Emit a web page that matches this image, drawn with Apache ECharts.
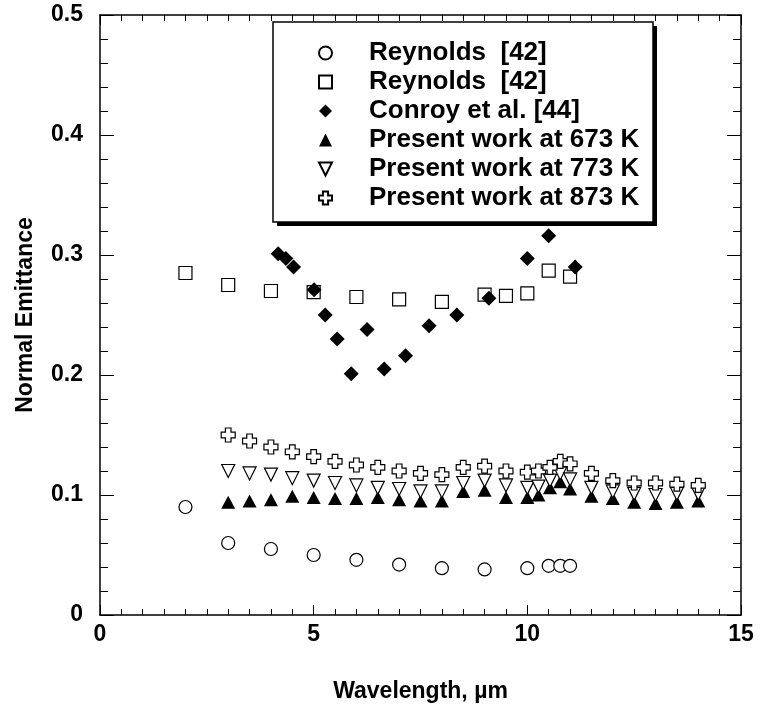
<!DOCTYPE html>
<html><head><meta charset="utf-8">
<script src="https://cdn.jsdelivr.net/npm/echarts@6/dist/echarts.min.js"></script>
<style>html,body{margin:0;padding:0;background:#fff}#c{width:762px;height:710px}</style>
</head><body><div id="c"></div>
<script>
var reynoldsCircleX = [2, 3, 4, 5, 6, 7, 8, 9, 10, 10.5, 10.77, 11];
var reynoldsCircleY = [0.090, 0.060, 0.055, 0.050, 0.046, 0.042, 0.039, 0.038, 0.039, 0.041, 0.041, 0.041];
var reynoldsSquareX = [2, 3, 4, 5, 6, 7, 8, 9, 9.5, 10, 10.5, 11];
var reynoldsSquareY = [0.285, 0.275, 0.270, 0.269, 0.265, 0.263, 0.261, 0.267, 0.266, 0.268, 0.287, 0.282];
var conroyX = [4.17, 4.35, 4.53, 5.01, 5.27, 5.55, 5.88, 6.25, 6.65, 7.15, 7.7, 8.35, 9.1, 10.0, 10.5, 11.12];
var conroyY = [0.301, 0.297, 0.290, 0.271, 0.250, 0.230, 0.201, 0.238, 0.205, 0.216, 0.241, 0.250, 0.264, 0.297, 0.316, 0.290];
var presentX = [3, 3.5, 4, 4.5, 5, 5.5, 6, 6.5, 7, 7.5, 8, 8.5, 9, 9.5, 10, 10.26, 10.53, 10.77, 11, 11.5, 12, 12.5, 13, 13.5, 14];
var w673Y = [0.094, 0.095, 0.096, 0.099, 0.098, 0.097, 0.097, 0.098, 0.096, 0.095, 0.095, 0.103, 0.104, 0.098, 0.098, 0.100, 0.106, 0.111, 0.105, 0.099, 0.097, 0.094, 0.093, 0.094, 0.095];
var w773Y = [0.120, 0.118, 0.117, 0.114, 0.112, 0.110, 0.108, 0.106, 0.105, 0.103, 0.103, 0.110, 0.112, 0.108, 0.106, 0.107, 0.112, 0.118, 0.113, 0.106, 0.103, 0.101, 0.100, 0.101, 0.101];
var w873Y = [0.150, 0.145, 0.140, 0.136, 0.132, 0.128, 0.125, 0.123, 0.120, 0.118, 0.117, 0.123, 0.124, 0.120, 0.119, 0.120, 0.123, 0.128, 0.126, 0.118, 0.112, 0.110, 0.110, 0.109, 0.108];
var xTicks = [0, 5, 10, 15];
var yTicks = [0, 0.1, 0.2, 0.3, 0.4, 0.5];
var legendNames = ['Reynolds  [42]', 'Reynolds  [42] ', 'Conroy et al. [44]', 'Present work at 673 K', 'Present work at 773 K', 'Present work at 873 K'];

function pairs(xs, ys) { return xs.map(function (x, i) { return [x, ys[i]]; }); }

var FONT = 'Liberation Sans, Arial, sans-serif';
var downTri = 'path://M0,0 L10,0 L5,10 Z';
var crossPath = 'path://M3,0 L7,0 L7,3 L10,3 L10,7 L7,7 L7,10 L3,10 L3,7 L0,7 L0,3 L3,3 Z';
var hollow = { color: '#fff', borderColor: '#000', borderWidth: 1.2, opacity: 1 };
var solid = { color: '#000', borderColor: '#000', borderWidth: 0, opacity: 1 };

var axisCommon = {
  axisLine: { show: true, onZero: false, lineStyle: { color: '#000', width: 1.5 } },
  splitLine: { show: false },
  axisTick: { show: true, inside: true, lineStyle: { color: '#000', width: 1 } },
  minorTick: { show: true, lineStyle: { color: '#000', width: 1 } },
  axisLabel: { color: '#000', fontFamily: FONT, fontWeight: 'bold', fontSize: 23 }
};
function merge(a, b) { return echarts.util.merge(echarts.util.clone(a), b, true); }

var chart = echarts.init(document.getElementById('c'), null, { renderer: 'canvas' });
chart.setOption({
  animation: false,
  backgroundColor: '#fff',
  grid: { left: 100, right: 21, top: 15, bottom: 95 },
  xAxis: [
    merge(axisCommon, {
      type: 'value', min: xTicks[0], max: xTicks[xTicks.length - 1], interval: 5,
      axisTick: { length: 10 }, minorTick: { splitNumber: 10, length: 6 },
      axisLabel: { margin: 8 },
      name: 'Wavelength, \u00b5m', nameLocation: 'middle', nameGap: 65,
      nameTextStyle: { color: '#000', fontFamily: FONT, fontWeight: 'bold', fontSize: 23 }
    }),
    merge(axisCommon, {
      type: 'value', position: 'top', min: xTicks[0], max: xTicks[xTicks.length - 1], interval: 5,
      axisTick: { length: 10 }, minorTick: { splitNumber: 10, length: 6 },
      axisLabel: { show: false }
    })
  ],
  yAxis: [
    merge(axisCommon, {
      type: 'value', min: yTicks[0], max: yTicks[yTicks.length - 1], interval: 0.1,
      axisTick: { length: 14 }, minorTick: { splitNumber: 5, length: 8 },
      axisLabel: { margin: 17 },
      name: 'Normal Emittance', nameLocation: 'middle', nameGap: 63,
      nameTextStyle: { color: '#000', fontFamily: FONT, fontWeight: 'bold', fontSize: 23 }
    }),
    merge(axisCommon, {
      type: 'value', position: 'right', min: yTicks[0], max: yTicks[yTicks.length - 1], interval: 0.1,
      axisTick: { length: 14 }, minorTick: { splitNumber: 5, length: 8 },
      axisLabel: { show: false }
    })
  ],
  graphic: [
    { type: 'rect', z: 3, shape: { x: 277, y: 26, width: 380, height: 200 }, style: { fill: '#000' } },
    { type: 'rect', z: 4, shape: { x: 273, y: 22, width: 380, height: 200 }, style: { fill: '#fff', stroke: '#000', lineWidth: 1.5 } }
  ],
  legend: {
    z: 10, orient: 'vertical', left: 318, top: 40, padding: 0,
    itemWidth: 13, itemHeight: 13, itemGap: 3,
    data: legendNames,
    textStyle: { color: '#000', fontFamily: FONT, fontWeight: 'bold', fontSize: 26, lineHeight: 23, padding: [0, 0, 0, 32] }
  },
  series: [
    { name: legendNames[0], type: 'scatter', symbol: 'circle', symbolSize: 13, itemStyle: hollow, data: pairs(reynoldsCircleX, reynoldsCircleY) },
    { name: legendNames[1], type: 'scatter', symbol: 'rect', symbolSize: 13, itemStyle: hollow, data: pairs(reynoldsSquareX, reynoldsSquareY) },
    { name: legendNames[2], type: 'scatter', symbol: 'diamond', symbolSize: 15, itemStyle: solid, data: pairs(conroyX, conroyY) },
    { name: legendNames[3], type: 'scatter', symbol: 'triangle', symbolSize: [14, 13], itemStyle: solid, data: pairs(presentX, w673Y) },
    { name: legendNames[4], type: 'scatter', symbol: downTri, symbolSize: [13, 13], itemStyle: hollow, data: pairs(presentX, w773Y) },
    { name: legendNames[5], type: 'scatter', symbol: crossPath, symbolSize: [14, 14], itemStyle: hollow, data: pairs(presentX, w873Y) }
  ]
});
</script>
</body></html>
